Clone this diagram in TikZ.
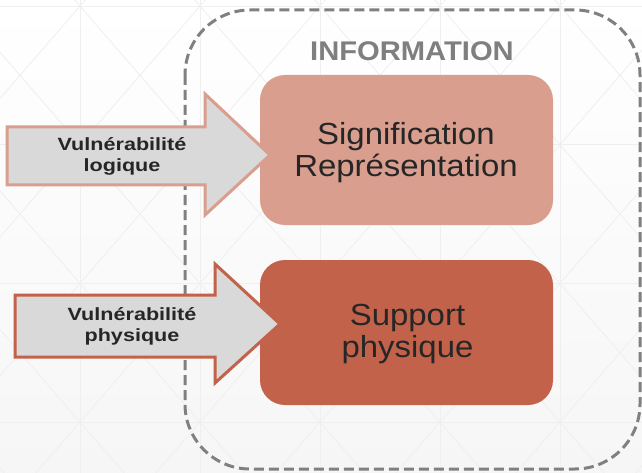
\documentclass[tikz,border=0pt]{standalone}
\usepackage{fontspec}
\setmainfont{Liberation Sans}
\newfontfamily\boxfont[FakeStretch=1.08]{Liberation Sans}
\newfontfamily\arrowfont[FakeStretch=1.22]{Liberation Sans}

\definecolor{salmon}{HTML}{D99E8D}
\definecolor{terracotta}{HTML}{C3624A}
\definecolor{arrowgray}{HTML}{D9D9D9}
\definecolor{frameline}{HTML}{808080}
\definecolor{titlegray}{HTML}{7F7F7F}
\definecolor{darktext}{HTML}{262626}
\definecolor{gridline}{HTML}{EFEFEF}
\definecolor{bgbottom}{HTML}{F6F6F6}

\tikzset{
  layerbox/.style={rounded corners=25pt, minimum width=293pt, inner sep=0pt},
  layertext/.style={align=center, text=darktext, inner sep=0pt,
    font=\boxfont\fontsize{30.5}{32}\selectfont},
  arrowbody/.style={fill=arrowgray, line width=3pt, line join=miter},
  arrowtext/.style={align=center, text=darktext, inner sep=0pt,
    font=\arrowfont\bfseries\fontsize{17.7}{20.7}\selectfont},
  frame/.style={draw=frameline, line width=3pt, dash pattern=on 10pt off 5pt,
    rounded corners=65pt},
  gridstroke/.style={draw=gridline, line width=0.8pt}
}

\begin{document}
\begin{tikzpicture}[x=1pt, y=-1pt]
  \useasboundingbox (0,0) rectangle (642,473);

  % background with a faint lattice
  \shade[top color=white, bottom color=bgbottom] (0,0) rectangle (642,473);
  \begin{scope}
    \clip (0,0) rectangle (642,473);
    \foreach \i in {-1,...,5} {
      \draw[gridstroke] ({80+120*\i},0) -- ({80+120*\i},473);
      \foreach \j in {-1,...,3} {
        \draw[gridstroke] ({80+120*\i},{6+138.67*\j}) -- ++(120,138.67);
        \draw[gridstroke] ({200+120*\i},{6+138.67*\j}) -- ++(-120,138.67);
      }
    }
    \foreach \j in {0,...,3}
      \draw[gridstroke] (0,{6+138.67*\j}) -- (642,{6+138.67*\j});
  \end{scope}

  % dashed frame around the information layers
  \draw[frame] (185,10) rectangle (640,469);
  \node[anchor=base, text=titlegray, inner sep=0pt,
        font=\boxfont\bfseries\fontsize{27}{30}\selectfont] (title) at (412,61) {INFORMATION};

  % the two layers
  \node[layerbox, fill=salmon, minimum height=150pt] (sens) at (406.5,150) {};
  \node[layertext] (senstext) at (406,153) {Signification\\Représentation};

  \node[layerbox, fill=terracotta, minimum height=145pt] (supp) at (406.5,332.5) {};
  \node[layertext] (supptext) at (407.5,334.4) {Support\\physique};

  % arrows for the two kinds of vulnerability
  \draw[arrowbody, draw=salmon]
    (7,127) -- (205,127) -- (205,94) -- (270,155) -- (205,215) -- (205,185) -- (7,185) -- cycle;
  \node[arrowtext] (vlog) at (122,156.7) {Vulnérabilité\\logique};

  \draw[arrowbody, draw=terracotta]
    (15,295) -- (215,295) -- (215,264) -- (280,324) -- (215,383) -- (215,357) -- (15,357) -- cycle;
  \node[arrowtext] (vphy) at (132,326.4) {Vulnérabilité\\physique};
\end{tikzpicture}
\end{document}
